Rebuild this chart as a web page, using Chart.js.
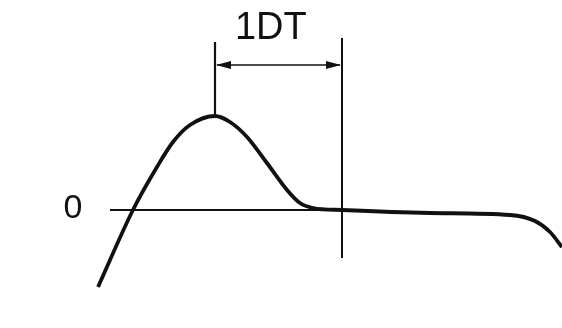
<!DOCTYPE html>
<html><head><meta charset="utf-8">
<script src="https://cdn.jsdelivr.net/npm/chart.js@4/dist/chart.umd.min.js"></script>
<style>html,body{margin:0;padding:0;background:#fff;}#c{display:block;}</style>
</head><body>
<canvas id="c" width="562" height="328"></canvas>
<script>
// Time in units of DT (peak = 0), amplitude normalised to the peak (= 1)
const curveX = [-0.921, -0.646, -0.457, -0.331, -0.197, 0, 0.118, 0.252, 0.409, 0.567, 0.669, 0.772, 1.0, 1.693, 2.323, 2.52, 2.638, 2.732];
const curveY = [-0.819, 0, 0.457, 0.723, 0.904, 1.0, 0.936, 0.777, 0.5, 0.213, 0.074, 0.021, 0.0, -0.032, -0.053, -0.117, -0.234, -0.394];
const zeroLineX = [-0.827, 1.02];
const markerPeakX = 0;
const markerDTX = 1;
const markerPeakTop = 1.787;
const markerDTTop = 1.83;
const markerDTBottom = -0.51;
const arrowLevel = 1.543;
const labelDT = "1DT";
const labelZero = "0";

const pts = (xs, ys) => xs.map((x, i) => ({x, y: ys[i]}));

const overlay = {
  id: 'overlay',
  afterDatasetsDraw(chart) {
    const {ctx, scales: {x, y}} = chart;
    const ya = y.getPixelForValue(arrowLevel);
    const x0 = x.getPixelForValue(markerPeakX);
    const x1 = x.getPixelForValue(markerDTX);
    ctx.save();
    ctx.strokeStyle = '#111';
    ctx.fillStyle = '#111';
    ctx.lineWidth = 1.6;
    ctx.beginPath(); ctx.moveTo(x0 + 2, ya); ctx.lineTo(x1 - 2, ya); ctx.stroke();
    const L = 15, H = 4;
    ctx.beginPath(); ctx.moveTo(x0 + 1, ya); ctx.lineTo(x0 + 1 + L, ya - H); ctx.lineTo(x0 + 1 + L, ya + H); ctx.closePath(); ctx.fill();
    ctx.beginPath(); ctx.moveTo(x1 - 1, ya); ctx.lineTo(x1 - 1 - L, ya - H); ctx.lineTo(x1 - 1 - L, ya + H); ctx.closePath(); ctx.fill();
    ctx.font = '500 38px "Liberation Sans", Arial, sans-serif';
    ctx.textAlign = 'center';
    ctx.textBaseline = 'middle';
    ctx.fillText(labelDT, x.getPixelForValue(0.44), y.getPixelForValue(1.957) + 2);
    ctx.font = '500 34px "Liberation Sans", Arial, sans-serif';
    ctx.fillText(labelZero, x.getPixelForValue(-1.118), y.getPixelForValue(0.02) + 1);
    ctx.restore();
  }
};

new Chart(document.getElementById('c'), {
  type: 'scatter',
  data: {
    datasets: [
      {data: pts(zeroLineX, [0, 0]), showLine: true, borderColor: '#111', borderWidth: 2, pointRadius: 0},
      {data: pts([markerPeakX, markerPeakX], [markerPeakTop, 1.0]), showLine: true, borderColor: '#111', borderWidth: 2.2, pointRadius: 0},
      {data: pts([markerDTX, markerDTX], [markerDTTop, markerDTBottom]), showLine: true, borderColor: '#111', borderWidth: 2, pointRadius: 0},
      {data: pts(curveX, curveY), showLine: true, borderColor: '#111', borderWidth: 3.8, pointRadius: 0, cubicInterpolationMode: 'monotone'}
    ]
  },
  options: {
    responsive: false,
    animation: false,
    layout: {padding: 0},
    plugins: {legend: {display: false}, tooltip: {enabled: false}},
    scales: {
      x: {type: 'linear', display: false, min: -215/127, max: 347/127},
      y: {type: 'linear', display: false, min: -118/94, max: 210/94}
    }
  },
  plugins: [overlay]
});
</script>
</body></html>
